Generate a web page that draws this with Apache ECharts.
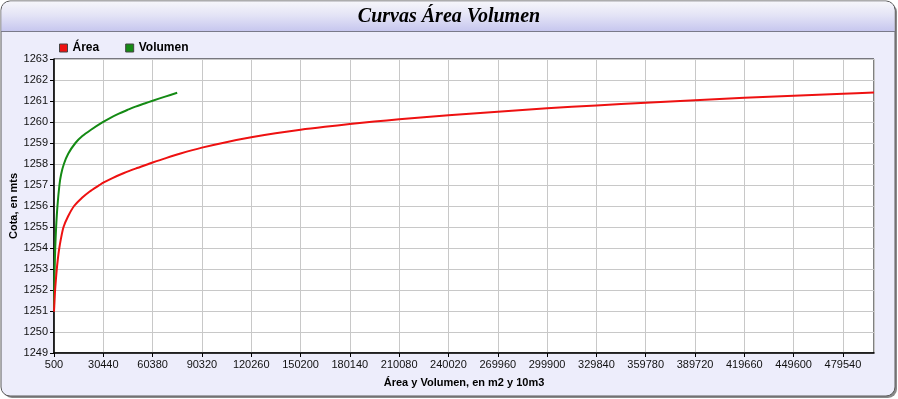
<!DOCTYPE html>
<html>
<head>
<meta charset="utf-8">
<script src="https://cdn.jsdelivr.net/npm/echarts@6/dist/echarts.min.js"></script>
<style>
html,body{margin:0;padding:0;background:#fff;}
#c{width:898px;height:399px;}
</style>
</head>
<body>
<div id="c"></div>
<script>
// ---- data ----
var titleText = 'Curvas Área Volumen';
var seriesNames = ['Área', 'Volumen'];
var xAxisName = 'Área y Volumen, en m2 y 10m3';
var yAxisName = 'Cota, en mts';

var areaX = [500, 800, 1100, 1600, 2140, 2800, 3530, 4600, 6300, 9000, 12700, 17700, 22000, 28000, 30440, 36000, 43000, 50000, 57500, 60380, 68000, 77330, 90320, 105000, 120260, 135000, 150200, 165000, 180140, 195000, 210080, 240020, 269960, 299900, 329840, 359780, 389720, 419660, 449600, 479540, 498400];
var areaY = [1250.97, 1251.5, 1251.92, 1252.45, 1252.95, 1253.45, 1253.9, 1254.4, 1255.0, 1255.5, 1256.0, 1256.4, 1256.68, 1256.99, 1257.11, 1257.33, 1257.57, 1257.78, 1257.99, 1258.07, 1258.27, 1258.5, 1258.78, 1259.04, 1259.27, 1259.46, 1259.63, 1259.77, 1259.9, 1260.02, 1260.13, 1260.32, 1260.49, 1260.65, 1260.79, 1260.92, 1261.04, 1261.15, 1261.25, 1261.34, 1261.4];

var volX = [500, 650, 900, 1250, 1800, 2600, 3800, 4800, 6500, 9200, 13500, 17700, 22750, 29850, 34500, 39900, 45000, 50000, 55500, 60380, 68000, 75300];
var volY = [1251.0, 1252.0, 1253.0, 1254.0, 1255.0, 1256.0, 1257.0, 1257.5, 1258.0, 1258.5, 1259.0, 1259.33, 1259.62, 1259.98, 1260.19, 1260.4, 1260.57, 1260.73, 1260.88, 1261.01, 1261.21, 1261.39];

var xMin = 500, xMax = 498400, xStep = 29940;
var yMin = 1249, yMax = 1263, yStep = 1;

function pairs(xs, ys){ var o=[]; for(var i=0;i<xs.length;i++) o.push([xs[i], ys[i]]); return o; }

var chart = echarts.init(document.getElementById('c'), null, {renderer:'canvas'});
var W = 898, H = 399;
var font = '"Liberation Sans", Arial, sans-serif';
var option = {
  animation: false,
  backgroundColor: '#ffffff',
  graphic: [
    {type:'rect', z:-10, shape:{x:3,y:3,width:W-4,height:H-4,r:9}, style:{fill:'#8a8a8a'}},
    {type:'rect', z:-9, shape:{x:1,y:1,width:W-4,height:H-4,r:9}, style:{fill:'#ededfb', stroke:'#5a5a5a', lineWidth:1}},
    {type:'rect', z:-8, shape:{x:1.5,y:1.5,width:W-5,height:30,r:[9,9,0,0]},
      style:{fill:new echarts.graphic.LinearGradient(0,0,0,1,[{offset:0,color:'#f6f6fa'},{offset:0.45,color:'#e4e4f6'},{offset:1,color:'#c6c6ee'}]), stroke:null}},
    {type:'line', z:-7, shape:{x1:1,y1:31.5,x2:W-3,y2:31.5}, style:{stroke:'#7a7a8a', lineWidth:1}},
    {type:'text', z:5, style:{text:titleText, x:449, y:17, align:'center', verticalAlign:'middle', font:'italic bold 20px "Liberation Serif", "Times New Roman", serif', fill:'#000'}}
  ],
  legend: {
    left: 54, top: 37,
    itemWidth: 8, itemHeight: 8, itemGap: 26,
    icon: 'rect',
    textStyle: {fontFamily:font, fontWeight:'bold', fontSize:12, color:'#000'},
    data: [
      {name: seriesNames[0], itemStyle:{color:'#ee1111', borderColor:'#444', borderWidth:1}},
      {name: seriesNames[1], itemStyle:{color:'#158a15', borderColor:'#444', borderWidth:1}}
    ]
  },
  grid: {left:54, right:24, top:59, bottom:46, outerBoundsMode:'none', containLabel:false, show:true, backgroundColor:'#ffffff', borderColor:'#000', borderWidth:1},
  xAxis: {
    type:'value', min:xMin, max:xMax, interval:xStep,
    name: xAxisName, nameLocation:'middle', nameGap:24, nameMoveOverlap:false,
    nameTextStyle:{fontFamily:font, fontWeight:'bold', fontSize:11, color:'#000'},
    axisLine:{show:true, onZero:false, lineStyle:{color:'#000', width:1.5}},
    axisTick:{show:true, length:4, lineStyle:{color:'#000'}},
    axisLabel:{margin:6, showMaxLabel:false, showMinLabel:true, hideOverlap:false, fontFamily:font, fontSize:11, color:'#111', formatter:function(v){return String(v);}},
    splitLine:{show:true, lineStyle:{color:'#c8c8c8', width:1}}
  },
  yAxis: {
    type:'value', min:yMin, max:yMax, interval:yStep,
    name: yAxisName, nameLocation:'middle', nameGap:35, nameRotate:90, nameMoveOverlap:false,
    nameTextStyle:{fontFamily:font, fontWeight:'bold', fontSize:11, color:'#000'},
    axisLine:{show:true, lineStyle:{color:'#000', width:1.5}},
    axisTick:{show:true, length:4, lineStyle:{color:'#000'}},
    axisLabel:{margin:6, fontFamily:font, fontSize:11, color:'#111', formatter:function(v){return String(v);}},
    splitLine:{show:true, lineStyle:{color:'#c8c8c8', width:1}}
  },
  series: [
    {name:seriesNames[1], type:'line', data:pairs(volX, volY), showSymbol:false, smooth:0.3, z:2,
      lineStyle:{color:'#148a14', width:2}, itemStyle:{color:'#148a14'}},
    {name:seriesNames[0], type:'line', data:pairs(areaX, areaY), showSymbol:false, smooth:0.3, z:3,
      lineStyle:{color:'#ee1111', width:2}, itemStyle:{color:'#ee1111'}}
  ]
};
chart.setOption(option);
</script>
</body>
</html>
